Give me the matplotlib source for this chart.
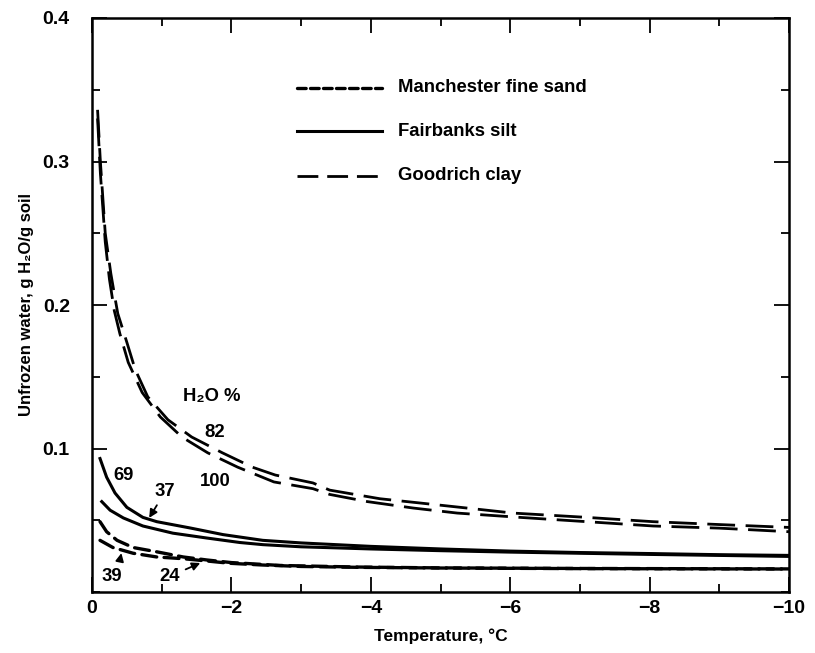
"""
Unfrozen water content vs temperature for three soils (Anderson-type plot).
"""
import matplotlib
matplotlib.use("Agg")
import matplotlib.pyplot as plt
from matplotlib.ticker import MultipleLocator

plt.rcParams["font.family"] = ["Liberation Sans", "DejaVu Sans"]

# ── Data ─────────────────────────────────────────────────────────────────────
clay_82_t = [-0.08, -0.12, -0.19, -0.27, -0.33, -0.37, -0.50, -0.62, -0.80, -1.09,
             -1.43, -1.87, -2.30, -2.63, -3.17, -3.41, -4.13, -4.71, -5.38, -6.04,
             -7.10, -8.05, -9.0, -10.0]
clay_82_w = [0.336, 0.300, 0.250, 0.222, 0.205, 0.194, 0.174, 0.155, 0.136, 0.120,
             0.108, 0.097, 0.087, 0.0815, 0.076, 0.071, 0.065, 0.062, 0.0585, 0.055,
             0.052, 0.049, 0.047, 0.045]

clay_100_t = [-0.08, -0.12, -0.19, -0.25, -0.32, -0.40, -0.52, -0.72, -0.98, -1.29,
              -1.66, -2.09, -2.61, -3.17, -3.41, -3.95, -4.61, -5.24, -6.14, -7.10,
              -8.05, -9.0, -10.0]
clay_100_w = [0.330, 0.292, 0.244, 0.218, 0.196, 0.180, 0.160, 0.139, 0.122, 0.108,
              0.097, 0.087, 0.0767, 0.072, 0.068, 0.063, 0.0585, 0.055, 0.052, 0.049,
              0.046, 0.0445, 0.042]

silt_69_t = [-0.115, -0.21, -0.33, -0.50, -0.73, -0.93, -1.41, -1.88, -2.45, -3.0,
             -4.0, -5.0, -6.0, -7.0, -8.0, -9.0, -10.0]
silt_69_w = [0.093, 0.080, 0.069, 0.059, 0.052, 0.049, 0.0446, 0.040, 0.036, 0.0342,
             0.0318, 0.030, 0.0285, 0.0275, 0.0268, 0.026, 0.0255]

silt_37_t = [-0.14, -0.26, -0.45, -0.73, -1.16, -1.65, -2.12, -2.45, -3.0, -4.0,
             -5.0, -6.0, -7.0, -8.0, -9.0, -10.0]
silt_37_w = [0.063, 0.057, 0.0516, 0.046, 0.041, 0.0376, 0.0345, 0.0330, 0.0315, 0.0300,
             0.0288, 0.0278, 0.027, 0.0262, 0.0255, 0.0248]

sand_39_t = [-0.115, -0.21, -0.36, -0.59, -0.93, -1.31, -1.65, -2.0, -2.7, -3.8,
             -5.0, -6.0, -7.0, -8.0, -9.0, -10.0]
sand_39_w = [0.049, 0.042, 0.036, 0.031, 0.028, 0.0244, 0.0223, 0.0205, 0.0185, 0.0174,
             0.0168, 0.0166, 0.0164, 0.0163, 0.0162, 0.0161]

sand_24_t = [-0.115, -0.30, -0.59, -0.93, -1.31, -1.65, -1.98, -2.45, -3.0, -3.8,
             -5.0, -6.0, -7.0, -8.0, -9.0, -10.0]
sand_24_w = [0.036, 0.031, 0.027, 0.0244, 0.0232, 0.0216, 0.020, 0.0188, 0.0178, 0.0172,
             0.0167, 0.0165, 0.0163, 0.0162, 0.0161, 0.016]

x_ticks = [0, -2, -4, -6, -8, -10]
x_tick_labels = ["0", "\u22122", "\u22124", "\u22126", "\u22128", "\u221210"]
y_ticks = [0.1, 0.2, 0.3, 0.4]
y_tick_labels = ["0.1", "0.2", "0.3", "0.4"]

# ── Styles ───────────────────────────────────────────────────────────────────
INK = "black"
SAND = dict(color=INK, lw=2.4, dashes=(4.5, 2.2), dash_capstyle="round")
SILT = dict(color=INK, lw=2.2, linestyle="-")
CLAY = dict(color=INK, lw=2.0, dashes=(10, 3.8))
SAND_LEG = dict(color=INK, lw=2.4, dashes=(2.6, 1.3), dash_capstyle="round")
CLAY_LEG = dict(color=INK, lw=2.0, dashes=(7.5, 3.2))
TXT = dict(fontsize=13.3, fontweight="bold", color=INK)

fig = plt.figure(figsize=(8.15, 6.53), dpi=100)
ax = fig.add_axes([92 / 815, 61 / 653, (789 - 92) / 815, (592 - 18) / 653])

ax.plot(sand_39_t, sand_39_w, **SAND)
ax.plot(sand_24_t, sand_24_w, **SAND)
ax.plot(silt_69_t, silt_69_w, **SILT)
ax.plot(silt_37_t, silt_37_w, **SILT)
ax.plot(clay_82_t, clay_82_w, **CLAY)
ax.plot(clay_100_t, clay_100_w, **CLAY)

ax.set_xlim(0, -10)
ax.set_ylim(0, 0.4)
ax.set_xticks(x_ticks)
ax.set_xticklabels(x_tick_labels)
ax.set_yticks(y_ticks)
ax.set_yticklabels(y_tick_labels)
ax.xaxis.set_minor_locator(MultipleLocator(1))
ax.yaxis.set_minor_locator(MultipleLocator(0.05))
ax.tick_params(which="both", direction="in", top=True, right=True, width=1.3, color=INK)
ax.tick_params(which="major", length=11, labelsize=14)
ax.tick_params(which="minor", length=6)
ax.tick_params(axis="x", which="major", pad=6)
ax.tick_params(axis="y", which="major", pad=16)
for lab in ax.get_xticklabels() + ax.get_yticklabels():
    lab.set_fontweight("bold")
for sp in ax.spines.values():
    sp.set_linewidth(1.8)

ax.set_xlabel("Temperature, \u00b0C", fontsize=12.5, fontweight="bold", labelpad=8)
ax.set_ylabel("Unfrozen water, g H\u2082O/g soil", fontsize=12, fontweight="bold", labelpad=6)

# ── Legend drawn as lines + text in axes coords ──────────────────────────────
legend_rows = [("Manchester fine sand", SAND_LEG, 88),
               ("Fairbanks silt", SILT, 131),
               ("Goodrich clay", CLAY_LEG, 176)]
for label, style, ypx in legend_rows:
    yy = (592 - ypx) / 574
    x0, x1 = (297 - 92) / 697, (382 - 92) / 697
    ax.plot([x0, x1], [yy, yy], transform=ax.transAxes, **style)
    ax.text((398 - 92) / 697, yy, label, transform=ax.transAxes, va="center", ha="left", **TXT)

# ── Water content labels ─────────────────────────────────────────────────────
ax.text(-1.72, 0.136, "H\u2082O %", ha="center", va="center", **TXT)
ax.text(-1.76, 0.111, "82", ha="center", va="center", **TXT)
ax.text(-1.77, 0.077, "100", ha="center", va="center", **TXT)
ax.text(-0.46, 0.081, "69", ha="center", va="center", **TXT)
ax.text(-0.29, 0.011, "39", ha="center", va="center", **TXT)

arrow = dict(arrowstyle="-|>", color=INK, lw=1.3, mutation_scale=12)
ax.annotate("37", xy=(-0.80, 0.050), xytext=(-1.05, 0.070),
            ha="center", va="center", arrowprops=arrow, **TXT)
ax.annotate("24", xy=(-1.59, 0.021), xytext=(-1.12, 0.011),
            ha="center", va="center", arrowprops=arrow, **TXT)
ax.annotate("", xy=(-0.43, 0.029), xytext=(-0.40, 0.022), arrowprops=arrow)

fig.savefig("out.png", dpi=100)
